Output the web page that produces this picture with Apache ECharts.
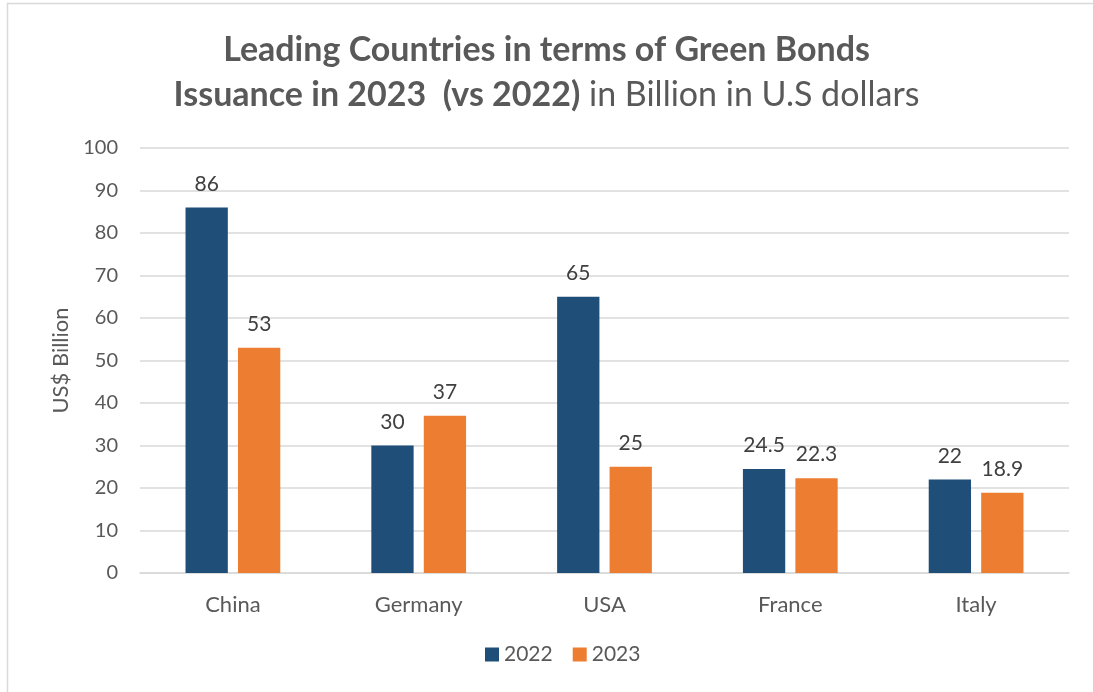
<!DOCTYPE html>
<html><head><meta charset="utf-8">
<script src="https://cdn.jsdelivr.net/npm/echarts@6/dist/echarts.min.js"></script>
<style>html,body{margin:0;padding:0;background:#fff}#c{width:1093px;height:692px}</style>
</head><body><div id="c"></div>
<script>
const categories = ['China', 'Germany', 'USA', 'France', 'Italy'];
const values2022 = [86, 30, 65, 24.5, 22];
const values2023 = [53, 37, 25, 22.3, 18.9];
const seriesNames = ['2022', '2023'];
const yTicks = { min: 0, max: 100, interval: 10 };

const FONT = 'Lato, "Open Sans", sans-serif';
const chart = echarts.init(document.getElementById('c'));
const labelStyle = { show: true, position: 'top', distance: 13, color: '#404040', fontSize: 21, fontFamily: FONT };
chart.setOption({
  animation: false,
  backgroundColor: '#fff',
  graphic: [{ type: 'rect', shape: { x: 7.5, y: 3.5, width: 1200, height: 800 }, style: { fill: 'none', stroke: '#d9d9d9', lineWidth: 1.5 }, silent: true }],
  title: {
    left: 'center', top: 23,
    text: '{b|Leading Countries in terms of Green Bonds}\n{b|Issuance in 2023  (vs 2022)}{n| in Billion in U.S dollars}',
    textStyle: {
      rich: {
        b: { fontSize: 34, fontWeight: 'bold', color: '#595959', fontFamily: FONT, lineHeight: 45 },
        n: { fontSize: 34, fontWeight: 'normal', color: '#595959', fontFamily: FONT, lineHeight: 45 }
      }
    }
  },
  legend: {
    bottom: 22, left: 480, itemWidth: 14, itemHeight: 14, itemGap: 20,
    icon: 'rect',
    textStyle: { color: '#595959', fontSize: 21, fontFamily: FONT },
    data: seriesNames
  },
  grid: { left: 140, right: 24, top: 148, bottom: 119 },
  xAxis: {
    type: 'category', data: categories,
    axisLine: { lineStyle: { color: '#d9d9d9', width: 1.5 } },
    axisTick: { show: false },
    axisLabel: { color: '#595959', fontSize: 22, fontFamily: FONT, margin: 21 }
  },
  yAxis: {
    type: 'value', min: yTicks.min, max: yTicks.max, interval: yTicks.interval,
    name: 'US$ Billion', nameLocation: 'middle', nameGap: 68, nameRotate: 90,
    nameTextStyle: { color: '#595959', fontSize: 22, fontFamily: FONT },
    axisLine: { show: false }, axisTick: { show: false },
    axisLabel: { color: '#595959', fontSize: 20, fontFamily: FONT, margin: 22 },
    splitLine: { lineStyle: { color: '#d9d9d9', width: 1.5 } }
  },
  series: [
    { name: seriesNames[0], type: 'bar', data: values2022, itemStyle: { color: '#1F4E79' }, barGap: '24%', barCategoryGap: '49%', label: labelStyle },
    { name: seriesNames[1], type: 'bar', data: values2023, itemStyle: { color: '#ED7D31' }, label: labelStyle }
  ]
});
</script></body></html>
